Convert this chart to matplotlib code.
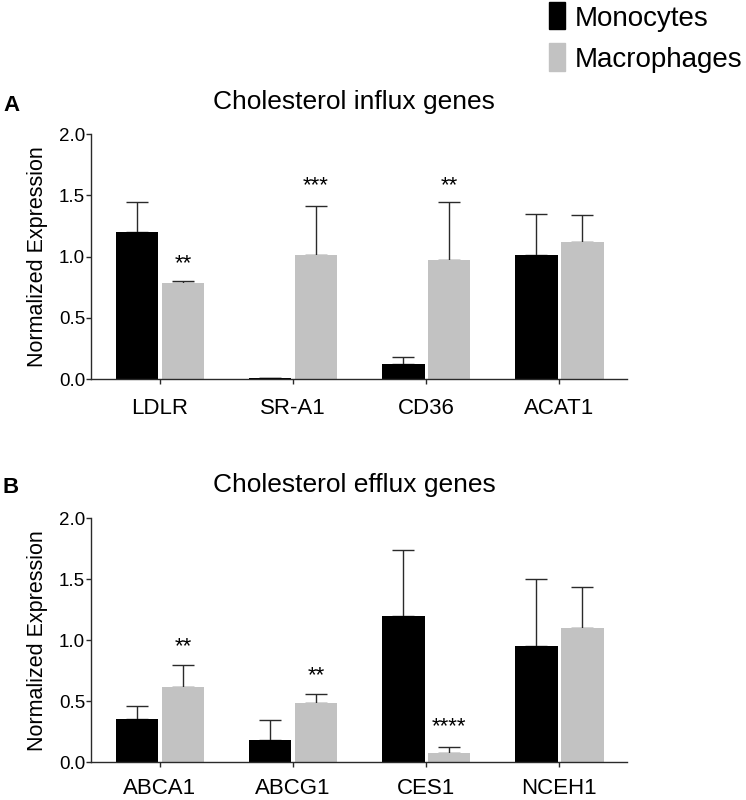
import matplotlib
matplotlib.use("Agg")
import matplotlib.pyplot as plt
import numpy as np

categories_a = ["LDLR", "SR-A1", "CD36", "ACAT1"]
mono_a = [1.20, 0.005, 0.123, 1.01]
mono_a_err = [0.25, 0.0, 0.057, 0.34]
mac_a = [0.785, 1.014, 0.97, 1.12]
mac_a_err = [0.02, 0.403, 0.474, 0.218]
stars_a = ["**", "***", "**", ""]
stars_a_y = [1.00, 1.635, 1.635, 0]

categories_b = ["ABCA1", "ABCG1", "CES1", "NCEH1"]
mono_b = [0.358, 0.183, 1.20, 0.954]
mono_b_err = [0.101, 0.167, 0.54, 0.546]
mac_b = [0.62, 0.486, 0.074, 1.104]
mac_b_err = [0.18, 0.071, 0.049, 0.336]
stars_b = ["**", "**", "****", ""]
stars_b_y = [1.008, 0.77, 0.352, 0]

yticks = [0.0, 0.5, 1.0, 1.5, 2.0]
ytick_labels = ["0.0", "0.5", "1.0", "1.5", "2.0"]

BLACK = "#000000"
GRAY = "#c2c2c2"
LINE = "#2a2a2a"
FONT = ["Liberation Sans", "DejaVu Sans"]
W, H = 746, 800

fig = plt.figure(figsize=(W / 100, H / 100), dpi=100)


def panel(rect, cats, mono, mono_err, mac, mac_err, stars, stars_y,
          title, title_base, letter, letter_base, xpad):
    ax = fig.add_axes(rect)
    x = np.arange(len(cats))
    off = 0.172
    w = 0.32
    ax.bar(x - off, mono, w, color=BLACK, zorder=2)
    ax.bar(x + off, mac, w, color=GRAY, zorder=2)
    zeros = np.zeros(len(x))
    ax.errorbar(x - off, mono, yerr=[zeros, mono_err], fmt="none",
                ecolor=LINE, elinewidth=1.0, capsize=8, capthick=1.0, zorder=1)
    ax.errorbar(x + off, mac, yerr=[zeros, mac_err], fmt="none",
                ecolor=LINE, elinewidth=1.0, capsize=8, capthick=1.0, zorder=1)
    fs = 16
    for xi, s, sy in zip(x, stars, stars_y):
        if s:
            ax.annotate(s, (xi + off, sy), xytext=(0, -0.57 * fs),
                        textcoords="offset points", ha="center", va="baseline",
                        fontsize=fs, family=FONT)
    ax.set_xlim(-0.52, 3.506)
    ax.set_ylim(0, 2.0)
    ax.set_yticks(yticks)
    ax.set_yticklabels(ytick_labels, family=FONT, fontsize=13.5)
    ax.set_xticks(x)
    ax.set_xticklabels(cats, family=FONT, fontsize=16)
    for sp in ["top", "right"]:
        ax.spines[sp].set_visible(False)
    for sp in ["left", "bottom"]:
        ax.spines[sp].set_color(LINE)
        ax.spines[sp].set_linewidth(1.0)
    ax.tick_params(axis="both", direction="out", length=3.5, width=1.0, color=LINE)
    ax.tick_params(axis="x", pad=xpad)
    ax.tick_params(axis="y", pad=0.5)
    ax.set_ylabel("Normalized Expression", family=FONT, fontsize=15.5, labelpad=8)
    fig.text(354 / W, 1 - title_base / H, title, family=FONT, fontsize=19,
             ha="center", va="baseline")
    fig.text(3 / W, 1 - letter_base / H, letter, family=FONT, fontsize=16,
             fontweight="bold", ha="left", va="baseline")
    return ax


panel([90.7 / W, 1 - 379 / H, 536 / W, (379 - 134.3) / H],
      categories_a, mono_a, mono_a_err, mac_a, mac_a_err,
      stars_a, stars_a_y, "Cholesterol influx genes", 109, "A", 110.7, 10)
panel([90.7 / W, 1 - 762.3 / H, 536 / W, (762.3 - 518.3) / H],
      categories_b, mono_b, mono_b_err, mac_b, mac_b_err,
      stars_b, stars_b_y, "Cholesterol efflux genes", 491.7, "B", 493.3, 7.5)

# legend
fig.patches.append(plt.Rectangle((549 / W, 1 - 29 / H), 16 / W, 27 / H,
                                 transform=fig.transFigure, color=BLACK))
fig.patches.append(plt.Rectangle((549 / W, 1 - 71 / H), 16 / W, 28 / H,
                                 transform=fig.transFigure, color=GRAY))
fig.text(575 / W, 1 - 26 / H, "Monocytes", family=FONT, fontsize=20,
         ha="left", va="baseline")
fig.text(575 / W, 1 - 67 / H, "Macrophages", family=FONT, fontsize=20,
         ha="left", va="baseline")

fig.savefig("out.png", dpi=100)
